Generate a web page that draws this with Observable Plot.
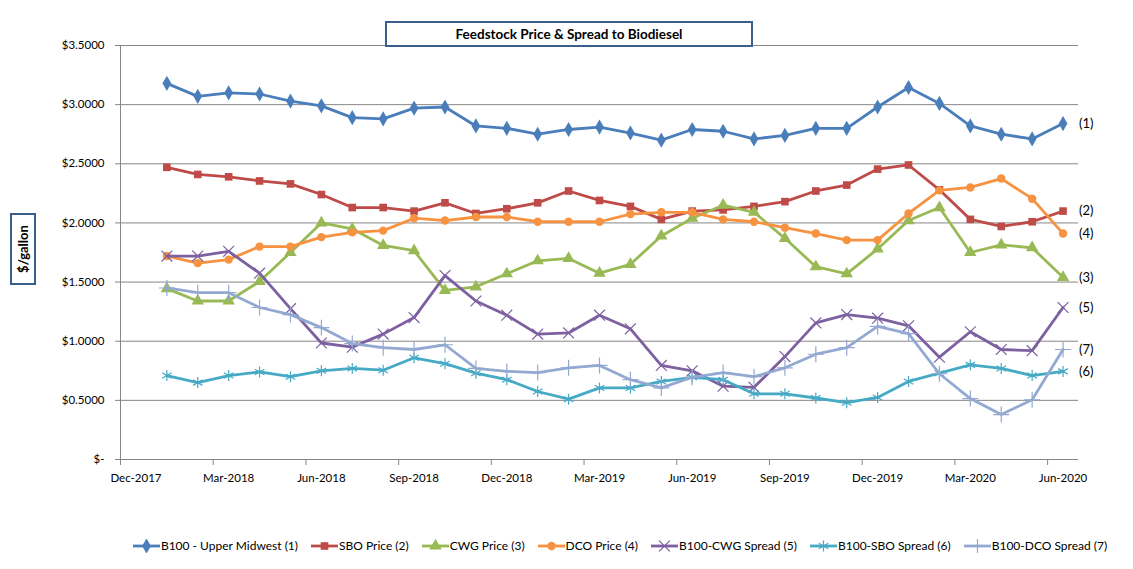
<!DOCTYPE html>
<html>
<head>
<meta charset="utf-8">
<script src="https://cdn.jsdelivr.net/npm/d3@7"></script>
<script src="https://cdn.jsdelivr.net/npm/@observablehq/plot@0.6"></script>
<style>
  html, body { margin: 0; padding: 0; background: #fff; }
  #wrap { position: relative; width: 1133px; height: 569px; font-family: Lato, "Open Sans", sans-serif; overflow: hidden; }
  #wrap svg.plot { position: absolute; left: 0; top: 0; }
  .box { position: absolute; box-sizing: border-box; border: 2px solid #3B5E8C; background: #fff; font-weight: bold; color: #000; display: flex; align-items: center; justify-content: center; }
  #title { left: 385px; top: 21px; width: 368px; height: 26px; font-size: 13.5px; }
  #ylab { left: 10px; top: 213px; width: 26px; height: 72px; font-size: 13px; }
  #ylab span { transform: rotate(-90deg); white-space: nowrap; display: inline-block; }
  #legend { position: absolute; left: 0; width: 1133px; top: 538px; display: flex; justify-content: center; gap: 12px; font-size: 12px; color: #000; padding-left: 106px; box-sizing: border-box; }
  #legend .item { display: flex; align-items: center; }
  #legend svg { display: block; }
</style>
</head>
<body>
<div id="wrap">
  <div id="title" class="box">Feedstock Price &amp; Spread to Biodiesel</div>
  <div id="ylab" class="box"><span>$/gallon</span></div>
  <div id="legend"></div>
</div>
<script>
// ---- Data ----
const categories = ["Dec-2017",
  "Jan-2018","Feb-2018","Mar-2018","Apr-2018","May-2018","Jun-2018","Jul-2018","Aug-2018","Sep-2018","Oct-2018","Nov-2018","Dec-2018",
  "Jan-2019","Feb-2019","Mar-2019","Apr-2019","May-2019","Jun-2019","Jul-2019","Aug-2019","Sep-2019","Oct-2019","Nov-2019","Dec-2019",
  "Jan-2020","Feb-2020","Mar-2020","Apr-2020","May-2020","Jun-2020"];
const months = categories.slice(1);
const xTickLabels = ["Dec-2017","Mar-2018","Jun-2018","Sep-2018","Dec-2018","Mar-2019","Jun-2019","Sep-2019","Dec-2019","Mar-2020","Jun-2020"];
const yTicks = [0, 0.5, 1.0, 1.5, 2.0, 2.5, 3.0, 3.5];

const b100      = [3.18,3.07,3.10,3.09,3.03,2.99,2.89,2.88,2.97,2.98,2.82,2.80,2.75,2.79,2.81,2.76,2.70,2.79,2.775,2.71,2.74,2.80,2.80,2.98,3.145,3.01,2.82,2.75,2.71,2.84];
const sbo       = [2.47,2.41,2.39,2.355,2.33,2.24,2.13,2.13,2.10,2.17,2.08,2.12,2.17,2.27,2.19,2.14,2.03,2.10,2.11,2.14,2.18,2.27,2.32,2.455,2.49,2.28,2.03,1.97,2.01,2.10];
const cwg       = [1.445,1.34,1.34,1.505,1.75,2.00,1.95,1.81,1.765,1.43,1.46,1.57,1.68,1.70,1.575,1.65,1.89,2.04,2.15,2.09,1.87,1.63,1.57,1.78,2.02,2.13,1.75,1.815,1.79,1.54];
const dco       = [1.72,1.66,1.69,1.80,1.80,1.88,1.92,1.935,2.04,2.02,2.05,2.05,2.01,2.01,2.01,2.075,2.09,2.09,2.03,2.01,1.96,1.91,1.855,1.855,2.08,2.275,2.30,2.375,2.205,1.91];
const spreadCwg = [1.72,1.72,1.76,1.575,1.275,0.985,0.95,1.06,1.20,1.555,1.34,1.22,1.06,1.07,1.22,1.105,0.795,0.75,0.62,0.61,0.87,1.155,1.225,1.195,1.13,0.865,1.08,0.93,0.92,1.285];
const spreadSbo = [0.71,0.65,0.71,0.74,0.70,0.75,0.77,0.755,0.86,0.81,0.73,0.675,0.575,0.51,0.605,0.605,0.66,0.695,0.675,0.555,0.555,0.52,0.48,0.525,0.66,0.73,0.80,0.77,0.71,0.745];
const spreadDco = [1.45,1.41,1.41,1.285,1.225,1.115,0.98,0.945,0.93,0.97,0.77,0.745,0.735,0.775,0.795,0.675,0.605,0.695,0.735,0.70,0.775,0.89,0.945,1.125,1.065,0.725,0.515,0.38,0.505,0.93];

const seriesNames = ["B100 - Upper Midwest (1)","SBO Price (2)","CWG Price (3)","DCO Price (4)","B100-CWG Spread (5)","B100-SBO Spread (6)","B100-DCO Spread (7)"];
const seriesTags  = ["(1)","(2)","(3)","(4)","(5)","(6)","(7)"];
const seriesValues = [b100, sbo, cwg, dco, spreadCwg, spreadSbo, spreadDco];

// ---- Styles ----
const colors  = ["#4A7EBB","#BE4B48","#98B954","#F69240","#7D60A0","#46AAC5","#93A9D1"];
const symbols = ["diamond","square","triangle","circle","times","asterisk","plus"];
const filled  = [true,true,true,true,false,false,false];
const radii   = [4.6,4.3,4.6,4.2,5,5.2,5.2];
const d3sym = {diamond: d3.symbolDiamond, square: d3.symbolSquare, triangle: d3.symbolTriangle, circle: d3.symbolCircle, times: d3.symbolTimes, asterisk: d3.symbolAsterisk, plus: d3.symbolPlus};

const xPos = m => categories.indexOf(m) + 0.5;

const series = seriesNames.map((name, k) => ({
  name, tag: seriesTags[k], color: colors[k], symbol: symbols[k], filled: filled[k], r: radii[k],
  points: months.map((m, i) => ({month: m, x: xPos(m), value: seriesValues[k][i]}))
}));

const marks = [
  Plot.ruleY(yTicks.filter(v => v > 0), {stroke: "#868686", strokeWidth: 1}),
  Plot.ruleY([0], {stroke: "#868686", strokeWidth: 1}),
  Plot.ruleX([0], {stroke: "#868686", strokeWidth: 1}),
  Plot.axisY({ticks: yTicks, tickSize: 5, tickFormat: () => "", stroke: "#868686", label: null}),
  Plot.axisY({ticks: yTicks, tickSize: 0, tickPadding: 16, fill: "#000", label: null,
    tickFormat: v => v === 0 ? "$-" : "$" + v.toFixed(4)}),
  Plot.axisX({ticks: xTickLabels.map(l => categories.indexOf(l)), tickSize: 6, tickFormat: () => "", stroke: "#868686", label: null}),
  Plot.axisX({ticks: xTickLabels.map(l => xPos(l)), tickSize: 0, tickPadding: 14, fill: "#000", label: null,
    tickFormat: v => categories[Math.floor(v)]})
];

for (const s of series) {
  marks.push(Plot.line(s.points, {x: "x", y: "value", stroke: s.color, strokeWidth: 2.8, curve: "linear"}));
  marks.push(Plot.dot(s.points, s.filled
    ? {x: "x", y: "value", symbol: () => s.symbol, r: s.r, fill: s.color, stroke: "none"}
    : {x: "x", y: "value", symbol: () => s.symbol, r: s.r, fill: "none", stroke: s.color, strokeWidth: 1.2}));
}
marks.push(Plot.text(series.map(s => ({tag: s.tag, x: s.points[s.points.length - 1].x, value: s.points[s.points.length - 1].value})),
  {x: "x", y: "value", text: "tag", dx: 16, textAnchor: "start", fontSize: 13, fill: "#000"}));

const chart = Plot.plot({
  width: 1133, height: 569,
  marginLeft: 120, marginRight: 55, marginTop: 45, marginBottom: 110,
  x: {type: "linear", domain: [0, categories.length], axis: null, label: null},
  y: {type: "linear", domain: [0, 3.5], axis: null, label: null},
  symbol: {type: "identity"},
  style: {fontFamily: "Lato, 'Open Sans', sans-serif", fontSize: "11.5px", background: "transparent", overflow: "visible"},
  marks
});
const wrap = document.getElementById("wrap");
wrap.insertBefore(chart, wrap.firstChild);

// ---- Legend ----
const legend = d3.select("#legend");
for (const s of series) {
  const item = legend.append("div").attr("class", "item");
  const svg = item.append("svg").attr("width", 29).attr("height", 14);
  svg.append("line").attr("x1", 1).attr("x2", 28).attr("y1", 7).attr("y2", 7)
    .attr("stroke", s.color).attr("stroke-width", 2.8);
  svg.append("path").attr("transform", "translate(14.5,7)")
    .attr("d", d3.symbol(d3sym[s.symbol], Math.PI * s.r * s.r)())
    .attr("fill", s.filled ? s.color : "none")
    .attr("stroke", s.filled ? "none" : s.color).attr("stroke-width", 1.2);
  item.append("span").text(s.name);
}
</script>
</body>
</html>
